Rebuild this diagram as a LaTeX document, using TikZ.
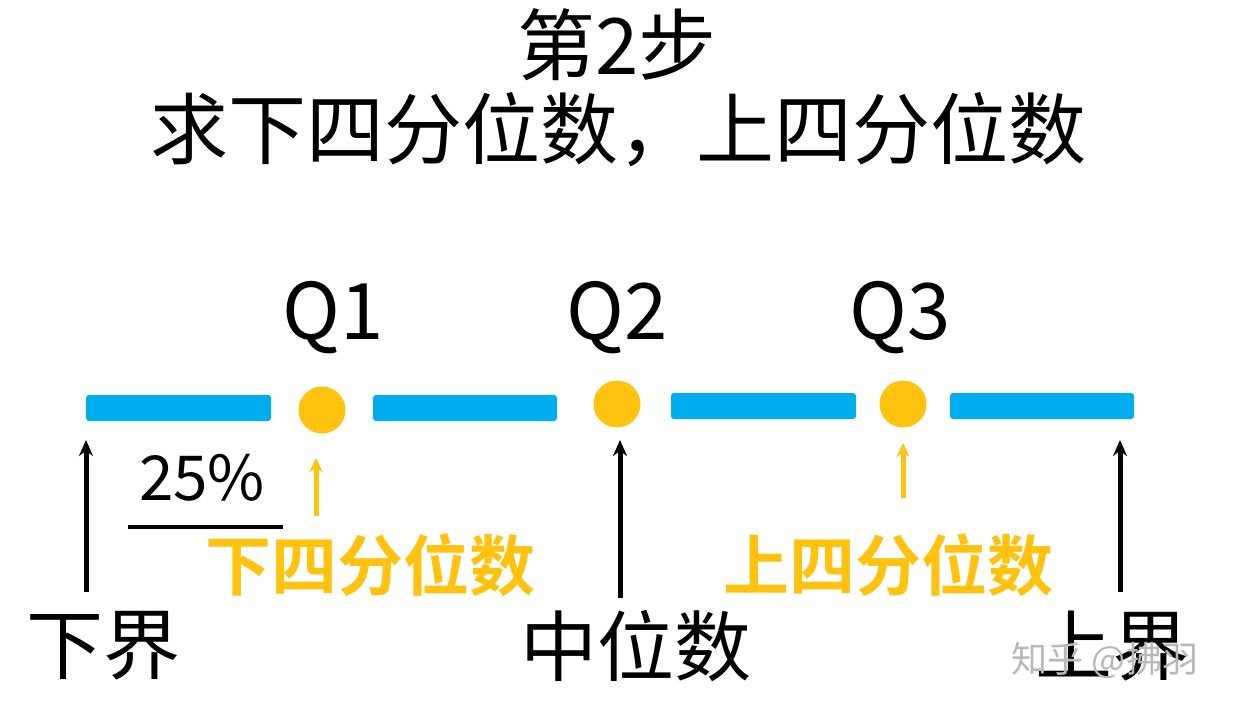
\documentclass[tikz,border=0pt]{standalone}
\usepackage{fontspec}
\usetikzlibrary{arrows.meta}
\setmainfont{Noto Sans CJK SC}
\newfontfamily\cjkb{Noto Sans CJK SC Bold}
\newfontfamily\cjkl{Noto Sans CJK SC Light}
\definecolor{barblue}{HTML}{00AEEF}
\definecolor{dotyel}{HTML}{FFC20E}
\begin{document}
\begin{tikzpicture}[x=1pt,y=-1pt,
  bar/.style={fill=barblue,rounded corners=3pt},
  dot/.style={circle,fill=dotyel,minimum size=47pt,inner sep=0pt},
  lab/.style={font=\fontsize{77}{80}\selectfont},
  ql/.style={font=\fontsize{78}{80}\selectfont},
  yl/.style={font=\cjkb\fontsize{66}{70}\selectfont,text=dotyel},
  barr/.style={line width=5pt,-{Stealth[length=16pt,width=14pt]}},
  yarr/.style={line width=5pt,dotyel,-{Stealth[length=14pt,width=13pt]}}]
\useasboundingbox (0,0) rectangle (1233,713);
\node[font=\fontsize{78}{80}\selectfont] (t1) at (617,45) {第2步};
\node[font=\fontsize{78}{80}\selectfont] (t2) at (618,130) {求下四分位数，上四分位数};
\fill[bar] (86,395) rectangle (271,421);
\fill[bar] (373,395) rectangle (557,421);
\fill[bar] (671,393) rectangle (856,419);
\fill[bar] (950,393) rectangle (1134,419);
\node[dot] (d1) at (322,410) {};
\node[dot] (d2) at (617,404) {};
\node[dot] (d3) at (903,404) {};
\node[ql] (q1) at (333,318) {Q1};
\node[ql] (q2) at (617,318) {Q2};
\node[ql] (q3) at (900,318) {Q3};
\node[lab] (lo) at (103,646) {下界};
\node[lab] (mid) at (636,646) {中位数};
\node[lab] (hi) at (1112,646) {上界};
\coordinate (a1s) at (86,592); \coordinate (a1e) at (86,440);
\coordinate (a2s) at (620,598); \coordinate (a2e) at (620,440);
\coordinate (a3s) at (1120,592); \coordinate (a3e) at (1120,440);
\draw[barr] (a1s) -- (a1e);
\draw[barr] (a2s) -- (a2e);
\draw[barr] (a3s) -- (a3e);
\coordinate (y1s) at (316,516); \coordinate (y1e) at (316,458);
\coordinate (y2s) at (903,498); \coordinate (y2e) at (903,443);
\draw[yarr] (y1s) -- (y1e);
\draw[yarr] (y2s) -- (y2e);
\node[font=\fontsize{62}{64}\selectfont] (p) at (202,478) {25\%};
\draw[line width=4pt] (128,527) -- (283,527);
\node[yl] (ly) at (370,565) {下四分位数};
\node[yl] (uy) at (888,565) {上四分位数};
\node[text=gray!55,font=\fontsize{36}{38}\selectfont] (wm) at (1105,660) {知乎 @拂羽};
\end{tikzpicture}
\end{document}
